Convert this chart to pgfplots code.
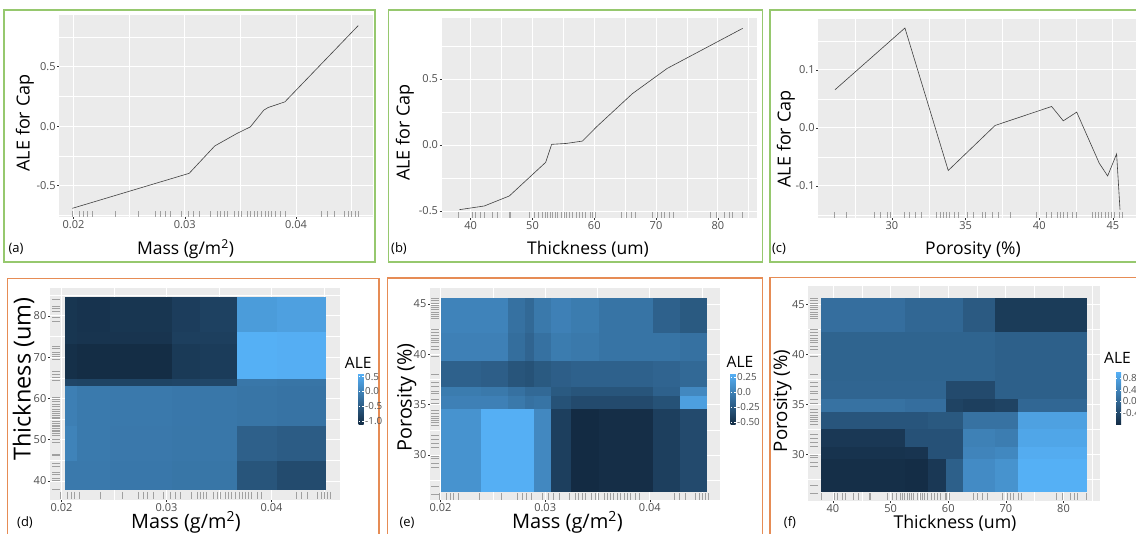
\documentclass[border=0pt]{standalone}
\usepackage{pgfplots}
\pgfplotsset{compat=1.18}
\usepackage{pgfplotstable}
\usepackage{fontspec}
\setmainfont{Open Sans}

\definecolor{ggpanel}{RGB}{235,235,235}
\definecolor{ggtext}{RGB}{77,77,77}
\definecolor{ggtick}{RGB}{51,51,51}
\definecolor{boxgreen}{RGB}{150,200,110}
\definecolor{boxorange}{RGB}{230,140,85}
\definecolor{rugc}{RGB}{160,160,160}

\newcommand\fs[1]{\fontsize{#1}{#1}\selectfont}
\newcommand\tickfont{\fs{11}}
\newcommand\cbfont{\fs{9.8}}
\newcommand\labfont{\fs{18}}
\newcommand\tagfont{\fs{13}}

\pgfplotsset{
  colormap={ggblue}{rgb255(0cm)=(19,43,67); rgb255(1cm)=(86,177,247)},
  gg/.style={
    scale only axis, anchor=south west,
    axis background/.style={fill=ggpanel},
    axis x line*=bottom, axis y line*=left,
    axis line style={draw=none},
    grid=both,
    major grid style={white, line width=0.9pt},
    minor grid style={white, line width=0.45pt},
    tick align=outside,
    major tick length=2pt, minor tick length=0pt,
    tick style={ggtick, line width=0.5pt},
    scaled ticks=false,
    xticklabel style={font=\tickfont, text=ggtext, inner sep=1pt},
    yticklabel style={font=\tickfont, text=ggtext, inner sep=1.5pt},
  },
  rugx/.style={rugc, only marks, mark=|, mark size=3pt, mark options={line width=0.35pt}},
  rugy/.style={rugc, only marks, mark=-, mark size=4pt, mark options={line width=0.35pt}},
  heat/.style={
    scale only axis, anchor=south west, hide axis,
    view={0}{90}, zmin=-1, zmax=1,
    colormap name=ggblue,
  },
  cbar/.style={
    at={(parent axis.south east)}, anchor=south west,
    scale only axis, width=5pt, height=51.7pt,
    axis line style={draw=none},
    tick align=inside, major tick length=1.2pt,
    tick style={white, line width=0.4pt},
    yticklabel style={font=\cbfont, text=ggtext, inner sep=1.5pt},
  },
}

% rug observations (value, count)
\pgfplotstableread{
m n
0.0199 1
0.0205 1
0.0209 1
0.0212 1
0.0217 1
0.0237 1
0.0258 1
0.0273 1
0.0278 1
0.0282 1
0.0287 1
0.0297 1
0.0303 1
0.0308 1
0.0313 1
0.0323 1
0.0329 1
0.0332 1
0.0335 1
0.0338 1
0.0344 1
0.0348 1
0.0351 1
0.0356 1
0.0359 1
0.0362 1
0.0365 1
0.0369 1
0.0372 1
0.0375 1
0.0378 1
0.0381 1
0.0386 1
0.0390 1
0.0423 1
0.0428 1
0.0434 1
0.0443 1
0.0447 1
0.0450 1
0.0453 1
0.0456 1
}\rugmass

\pgfplotstableread{
t n
38.0 1
40.2 1
40.8 1
41.6 1
42.1 1
43.5 1
44.3 1
46.2 1
46.4 1
49.4 1
50.2 1
51.0 1
51.6 1
52.0 1
52.4 1
52.8 1
53.2 1
53.6 1
54.0 1
54.6 1
55.1 1
55.5 1
55.9 1
56.4 1
57.0 1
57.5 1
58.1 1
58.6 1
59.4 1
59.7 1
60.2 1
64.3 1
65.1 1
65.9 1
66.7 1
69.4 1
70.2 1
70.8 1
71.3 1
72.1 1
72.7 1
78.7 1
79.7 1
81.1 1
81.9 1
82.4 1
84.0 1
}\rugthick

\pgfplotstableread{
p n
26.1 1
26.9 1
28.8 1
29.2 1
29.7 1
29.9 1
30.8 1
31.2 1
31.6 1
32.0 1
33.0 1
33.3 1
33.5 1
33.7 1
33.9 1
34.2 1
34.5 1
35.1 1
35.5 1
36.1 1
36.3 1
36.8 1
37.2 1
38.0 1
39.8 1
40.5 1
40.8 1
41.2 1
41.4 1
41.6 1
41.9 1
42.2 1
42.5 1
43.6 1
43.8 1
44.0 1
44.2 1
44.5 1
44.7 1
44.9 1
45.1 1
45.4 1
45.6 1
}\rugpor

% 2D ALE grids: corner x, corner y, value of the cell to the upper right
\pgfplotstableread{
x y c
0.0203 38.1 -0.13
0.0215 38.1 -0.13
0.0246 38.1 -0.15
0.0305 38.1 -0.17
0.0332 38.1 -0.17
0.0367 38.1 -0.60
0.0405 38.1 -0.72
0.0451 38.1 -0.72
0.0203 45.0 0.00
0.0215 45.0 -0.12
0.0246 45.0 -0.14
0.0305 45.0 -0.16
0.0332 45.0 -0.16
0.0367 45.0 -0.45
0.0405 45.0 -0.50
0.0451 45.0 -0.50
0.0203 53.6 -0.05
0.0215 53.6 -0.12
0.0246 53.6 -0.13
0.0305 53.6 -0.15
0.0332 53.6 -0.16
0.0367 53.6 -0.18
0.0405 53.6 -0.20
0.0451 53.6 -0.20
0.0203 63.1 -0.80
0.0215 63.1 -0.82
0.0246 63.1 -0.82
0.0305 63.1 -0.80
0.0332 63.1 -0.78
0.0367 63.1 -0.16
0.0405 63.1 -0.18
0.0451 63.1 -0.18
0.0203 64.9 -1.08
0.0215 64.9 -1.12
0.0246 64.9 -1.12
0.0305 64.9 -0.95
0.0332 64.9 -0.92
0.0367 64.9 0.58
0.0405 64.9 0.56
0.0451 64.9 0.56
0.0203 73.3 -1.00
0.0215 73.3 -1.02
0.0246 73.3 -1.02
0.0305 73.3 -0.88
0.0332 73.3 -0.88
0.0367 73.3 0.58
0.0405 73.3 0.56
0.0451 73.3 0.56
0.0203 76.2 -1.00
0.0215 76.2 -1.03
0.0246 76.2 -1.00
0.0305 76.2 -0.90
0.0332 76.2 -0.85
0.0367 76.2 0.32
0.0405 76.2 0.38
0.0451 76.2 0.38
0.0203 84.45 -1.00
0.0215 84.45 -1.03
0.0246 84.45 -1.00
0.0305 84.45 -0.90
0.0332 84.45 -0.85
0.0367 84.45 0.32
0.0405 84.45 0.38
0.0451 84.45 0.38
}\heatd

\pgfplotstableread{
x y c
0.0201 26.36 0.12
0.0239 26.36 0.30
0.0265 26.36 0.30
0.0281 26.36 0.30
0.0290 26.36 0.05
0.0306 26.36 -0.42
0.0325 26.36 -0.55
0.0352 26.36 -0.53
0.0403 26.36 -0.42
0.0429 26.36 -0.35
0.0454 26.36 -0.35
0.0201 34.64 0.00
0.0239 34.64 0.00
0.0265 34.64 -0.05
0.0281 34.64 -0.10
0.0290 34.64 -0.08
0.0306 34.64 -0.30
0.0325 34.64 -0.35
0.0352 34.64 -0.35
0.0403 34.64 -0.30
0.0429 34.64 0.20
0.0454 34.64 0.20
0.0201 35.96 -0.03
0.0239 35.96 -0.05
0.0265 35.96 -0.10
0.0281 35.96 -0.15
0.0290 35.96 -0.15
0.0306 35.96 -0.25
0.0325 35.96 -0.28
0.0352 35.96 -0.28
0.0403 35.96 -0.20
0.0429 35.96 0.05
0.0454 35.96 0.05
0.0201 36.88 -0.20
0.0239 36.88 -0.22
0.0265 36.88 -0.28
0.0281 36.88 -0.30
0.0290 36.88 -0.25
0.0306 36.88 -0.22
0.0325 36.88 -0.20
0.0352 36.88 -0.20
0.0403 36.88 -0.18
0.0429 36.88 -0.15
0.0454 36.88 -0.15
0.0201 39.43 0.00
0.0239 39.43 0.00
0.0265 39.43 -0.12
0.0281 39.43 -0.18
0.0290 39.43 -0.10
0.0306 39.43 -0.03
0.0325 39.43 -0.05
0.0352 39.43 -0.08
0.0403 39.43 -0.08
0.0429 39.43 -0.10
0.0454 39.43 -0.10
0.0201 42.24 0.02
0.0239 42.24 0.02
0.0265 42.24 -0.10
0.0281 42.24 -0.15
0.0290 42.24 -0.05
0.0306 42.24 0.00
0.0325 42.24 -0.03
0.0352 42.24 -0.08
0.0403 42.24 -0.20
0.0429 42.24 -0.25
0.0454 42.24 -0.25
0.0201 45.56 0.02
0.0239 45.56 0.02
0.0265 45.56 -0.10
0.0281 45.56 -0.15
0.0290 45.56 -0.05
0.0306 45.56 0.00
0.0325 45.56 -0.03
0.0352 45.56 -0.08
0.0403 45.56 -0.20
0.0429 45.56 -0.25
0.0454 45.56 -0.25
}\heate

\pgfplotstableread{
x y c
38.04 26.26 -0.78
52.48 26.26 -0.80
56.52 26.26 -0.65
59.70 26.26 -0.10
62.60 26.26 0.50
68.08 26.26 0.60
72.10 26.26 1.00
83.85 26.26 1.00
38.04 29.60 -0.72
52.48 29.60 -0.70
56.52 29.60 -0.30
59.70 29.60 -0.30
62.60 29.60 0.40
68.08 29.60 0.45
72.10 29.60 0.95
83.85 29.60 0.95
38.04 30.77 -0.65
52.48 30.77 -0.30
56.52 30.77 -0.30
59.70 30.77 -0.30
62.60 30.77 0.35
68.08 30.77 0.30
72.10 30.77 0.86
83.85 30.77 0.86
38.04 32.60 -0.25
52.48 32.60 -0.25
56.52 32.60 -0.20
59.70 32.60 -0.20
62.60 32.60 0.15
68.08 32.60 0.15
72.10 32.60 0.79
83.85 32.60 0.79
38.04 34.26 0.15
52.48 34.26 0.10
56.52 34.26 0.10
59.70 34.26 -0.50
62.60 34.26 -0.55
68.08 34.26 -0.50
72.10 34.26 0.00
83.85 34.26 0.00
38.04 35.60 -0.03
52.48 35.60 -0.03
56.52 35.60 -0.03
59.70 35.60 -0.40
62.60 35.60 -0.40
68.08 35.60 -0.10
72.10 35.60 -0.10
83.85 35.60 -0.10
38.04 37.43 -0.05
52.48 37.43 -0.05
56.52 37.43 -0.05
59.70 37.43 -0.05
62.60 37.43 -0.05
68.08 37.43 -0.10
72.10 37.43 -0.10
83.85 37.43 -0.10
38.04 42.26 0.10
52.48 42.26 0.00
56.52 42.26 0.00
59.70 42.26 0.00
62.60 42.26 -0.18
68.08 42.26 -0.60
72.10 42.26 -0.60
83.85 42.26 -0.60
38.04 45.63 0.10
52.48 45.63 0.00
56.52 45.63 0.00
59.70 45.63 0.00
62.60 45.63 -0.18
68.08 45.63 -0.60
72.10 45.63 -0.60
83.85 45.63 -0.60
}\heatf

\begin{document}
\begin{tikzpicture}
\useasboundingbox (0,0) rectangle (1136pt,-534pt);

% panel frames
\draw[boxgreen, line width=1.5pt] (4pt,-10pt) rectangle (375pt,-262pt);
\draw[boxgreen, line width=1.5pt] (388.3pt,-10pt) rectangle (762.7pt,-262pt);
\draw[boxgreen, line width=1.5pt] (770pt,-10pt) rectangle (1145pt,-262pt);
\draw[boxorange, line width=1.5pt] (7.3pt,-278.3pt) rectangle (379pt,-545pt);
\draw[boxorange, line width=1.5pt] (387.3pt,-278pt) rectangle (762.7pt,-545pt);
\draw[boxorange, line width=1.5pt] (770pt,-277.7pt) rectangle (1145pt,-545pt);

% (a) ALE of mass
\begin{axis}[gg, at={(59.3pt,-217pt)}, width=313.4pt, height=202pt,
  xmin=0.01872, xmax=0.0469, ymin=-0.763, ymax=0.934,
  xtick={0.02,0.03,0.04}, xticklabels={0.02,0.03,0.04},
  minor xtick={0.025,0.035,0.045},
  ytick={-0.5,0,0.5}, yticklabels={-0.5,0.0,0.5},
  minor ytick={-0.75,-0.25,0.25,0.75}]
  \addplot[rugx] table[x=m, y expr=-0.738] {\rugmass};
  \addplot[black!75, line width=0.6pt] coordinates {
    (0.0199,-0.69) (0.0304,-0.396) (0.0327,-0.166) (0.0347,-0.061)
    (0.0359,-0.006) (0.0371,0.134) (0.0375,0.157) (0.0390,0.204) (0.0456,0.845)};
\end{axis}
\node[rotate=90, font=\labfont] at (25pt,-123pt) {ALE for Cap};
\node[font=\fs{17.5}, anchor=base] at (185.5pt,-255pt) {Mass (g/m\textsuperscript{2})};
\node[font=\tagfont] at (16pt,-249pt) {(a)};

% (b) ALE of thickness
\begin{axis}[gg, at={(441.7pt,-218pt)}, width=315pt, height=199.7pt,
  xmin=35.3, xmax=86.3, ymin=-0.553, ymax=0.96,
  xtick={40,50,60,70,80}, xticklabels={40,50,60,70,80},
  minor xtick={35,45,55,65,75,85},
  ytick={-0.5,0,0.5}, yticklabels={-0.5,0.0,0.5},
  minor ytick={-0.25,0.25,0.75}]
  \addplot[rugx] table[x=t, y expr=-0.530] {\rugthick};
  \addplot[black!75, line width=0.6pt] coordinates {
    (38.15,-0.49) (42.2,-0.462) (46.25,-0.386) (52.14,-0.131) (53.1,0.005)
    (55.5,0.012) (58.1,0.03) (60.4,0.139) (66.2,0.39) (71.8,0.58) (84.04,0.884)};
\end{axis}
\node[rotate=90, font=\labfont] at (405pt,-132.5pt) {ALE for Cap};
\node[font=\fs{17.5}, anchor=base] at (588pt,-255pt) {Thickness (um)};
\node[font=\tagfont] at (399pt,-249pt) {(b)};

% (c) ALE of porosity
\begin{axis}[gg, at={(818.3pt,-218.3pt)}, width=318.2pt, height=199pt,
  xmin=25.0, xmax=46.6, ymin=-0.156, ymax=0.187,
  xtick={30,35,40,45}, xticklabels={30,35,40,45},
  minor xtick={27.5,32.5,37.5,42.5},
  ytick={-0.1,0,0.1}, yticklabels={-0.1,0.0,0.1},
  minor ytick={-0.15,-0.05,0.05,0.15}]
  \addplot[rugx] table[x=p, y expr=-0.151] {\rugpor};
  \addplot[black!75, line width=0.6pt] coordinates {
    (26.13,0.0655) (30.88,0.172) (33.82,-0.0736) (37.0,0.004) (40.84,0.0367)
    (41.63,0.012) (42.54,0.027) (44.07,-0.061) (44.64,-0.083) (45.25,-0.045) (45.48,-0.141)};
\end{axis}
\node[rotate=90, font=\labfont] at (786pt,-139pt) {ALE for Cap};
\node[font=\fs{17.5}, anchor=base] at (973pt,-255pt) {Porosity (\%)};
\node[font=\tagfont] at (779pt,-249pt) {(c)};

% (d) mass x thickness
\begin{axis}[gg, at={(50pt,-500pt)}, width=290pt, height=212.3pt,
  xmin=0.0189, xmax=0.04652, ymin=35.4, ymax=86.8,
  xtick={0.02,0.03,0.04}, xticklabels={0.02,0.03,0.04},
  minor xtick={0.025,0.035,0.045},
  ytick={40,50,60,70,80}, yticklabels={40,50,60,70,80},
  minor ytick={45,55,65,75,85}]
  \addplot[rugx, mark size=3.5pt] table[x=m, y expr=36.5] {\rugmass};
  \addplot[rugy] table[x expr=0.01946, y=t] {\rugthick};
\end{axis}
\begin{axis}[heat, at={(50pt,-500pt)}, width=290pt, height=212.3pt,
  xmin=0.0189, xmax=0.04652, ymin=35.4, ymax=86.8,
  point meta min=-1.14, point meta max=0.61,
  colorbar, colorbar style={cbar, xshift=10pt, yshift=75pt,
    ytick={-1,-0.5,0,0.5}, yticklabels={-1.0,-0.5,0.0,0.5}}]
  \addplot3[surf, shader=flat corner, z buffer=none, mesh/cols=8, point meta=explicit]
    table[x=x, y=y, z expr=0, meta=c] {\heatd};
\end{axis}
\node[rotate=90, font=\fs{23.5}] at (23.5pt,-379pt) {Thickness (um)};
\node[font=\fs{19.8}, anchor=base] at (186pt,-529pt) {Mass (g/m\textsuperscript{2})};
\node[font=\tagfont] at (25pt,-523pt) {(d)};
\node[font=\fs{15.6}] at (358.3pt,-362.5pt) {ALE};

% (e) mass x porosity
\begin{axis}[gg, at={(430pt,-500pt)}, width=290pt, height=212.3pt,
  xmin=0.0190, xmax=0.0467, ymin=25.53, ymax=46.62,
  xtick={0.02,0.03,0.04}, xticklabels={0.02,0.03,0.04},
  minor xtick={0.025,0.035,0.045},
  ytick={30,35,40,45}, yticklabels={30,35,40,45},
  minor ytick={27.5,32.5,37.5,42.5}]
  \addplot[rugx, mark size=3.5pt] table[x=m, y expr=25.83] {\rugmass};
  \addplot[rugy] table[x expr=0.01947, y=p] {\rugpor};
\end{axis}
\begin{axis}[heat, at={(430pt,-500pt)}, width=290pt, height=212.3pt,
  xmin=0.0190, xmax=0.0467, ymin=25.53, ymax=46.62,
  point meta min=-0.55, point meta max=0.32,
  colorbar, colorbar style={cbar, xshift=2pt, yshift=75pt,
    ytick={-0.5,-0.25,0,0.25}, yticklabels={-0.50,-0.25,0.0,0.25}}]
  \addplot3[surf, shader=flat corner, z buffer=none, mesh/cols=11, point meta=explicit]
    table[x=x, y=y, z expr=0, meta=c] {\heate};
\end{axis}
\node[rotate=90, font=\fs{19.8}] at (406.7pt,-397.5pt) {Porosity (\%)};
\node[font=\fs{20}, anchor=base] at (567.5pt,-529pt) {Mass (g/m\textsuperscript{2})};
\node[font=\tagfont] at (407pt,-523pt) {(e)};
\node[font=\fs{15.6}] at (740pt,-361.7pt) {ALE};

% (f) thickness x porosity
\begin{axis}[gg, at={(808.3pt,-501pt)}, width=291.7pt, height=215.3pt,
  xmin=35.72, xmax=86.33, ymin=25.33, ymax=46.86,
  xtick={40,50,60,70,80}, xticklabels={40,50,60,70,80},
  minor xtick={45,55,65,75,85},
  ytick={30,35,40,45}, yticklabels={30,35,40,45},
  minor ytick={27.5,32.5,37.5,42.5}]
  \addplot[rugx, mark size=3.5pt] table[x=t, y expr=25.76] {\rugthick};
  \addplot[rugy] table[x expr=36.7, y=p] {\rugpor};
\end{axis}
\begin{axis}[heat, at={(808.3pt,-501pt)}, width=291.7pt, height=215.3pt,
  xmin=35.72, xmax=86.33, ymin=25.33, ymax=46.86,
  point meta min=-0.83, point meta max=1.03,
  colorbar, colorbar style={cbar, xshift=7.7pt, yshift=76pt, height=53.3pt,
    ytick={-0.4,0,0.4,0.8}, yticklabels={-0.4,0.0,0.4,0.8}}]
  \addplot3[surf, shader=flat corner, z buffer=none, mesh/cols=8, point meta=explicit]
    table[x=x, y=y, z expr=0, meta=c] {\heatf};
\end{axis}
\node[rotate=90, font=\fs{18.7}] at (782.5pt,-401pt) {Porosity (\%)};
\node[font=\fs{17.7}, anchor=base] at (955pt,-529pt) {Thickness (um)};
\node[font=\tagfont] at (790pt,-523pt) {(f)};
\node[font=\fs{15.6}] at (1117.5pt,-358.3pt) {ALE};

\end{tikzpicture}
\end{document}
